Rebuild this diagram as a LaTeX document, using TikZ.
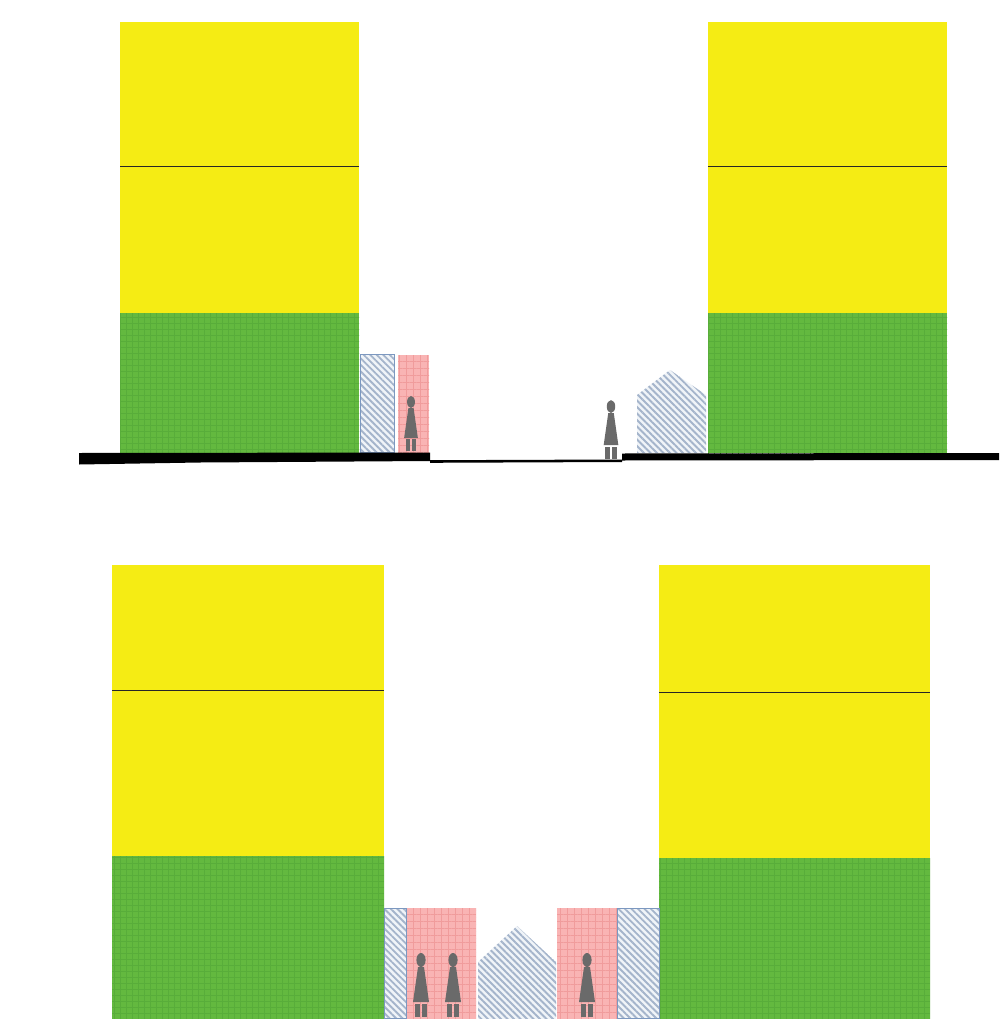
\documentclass[tikz,border=0pt]{standalone}
\usetikzlibrary{patterns.meta}
\definecolor{yel}{HTML}{F5EC14}
\definecolor{grn}{HTML}{63B93F}
\definecolor{grnd}{HTML}{58AD3A}
\definecolor{pnk}{HTML}{F9B4B4}
\definecolor{pnkd}{HTML}{F09C9C}
\definecolor{hat}{HTML}{A4B4CB}
\definecolor{hatbg}{HTML}{F0F4F8}
\definecolor{edgeb}{HTML}{7C98C0}
\definecolor{fig}{HTML}{6A6A6A}
\tikzset{
  x=1pt,y=-1pt,
  yellowblock/.style={fill=yel,draw=none},
  floorline/.style={draw=black!85,line width=0.9pt},
  greenblock/.style={pattern={Hatch[angle=0,distance=6pt,line width=0.8pt]},pattern color=grnd,preaction={fill=grn}},
  pinkblock/.style={pattern={Hatch[angle=0,distance=7pt,line width=0.8pt]},pattern color=pnkd,preaction={fill=pnk}},
  hatchblock/.style={pattern={Lines[angle=-45,distance=4.6pt,line width=1.9pt]},pattern color=hat,preaction={fill=hatbg}},
  hatchedge/.style={draw=edgeb,line width=0.9pt},
  figure/.style={fill=fig,draw=none},
  pics/person/.style={code={
    \fill[figure] (0,-57) ellipse (4.6 and 7);
    \fill[figure] (-3,-50) -- (3,-50) -- (8,-15) -- (-8,-15) -- cycle;
    \fill[figure] (-6,-13.5) rectangle (-1,0);
    \fill[figure] (1,-13.5) rectangle (6,0);
  }}
}
\begin{document}
\begin{tikzpicture}
\useasboundingbox (0,0) rectangle (999,1019);
\fill[white] (0,0) rectangle (999,1019);
% top section, left tower
\fill[yellowblock] (120,22) rectangle (359,313);
\draw[floorline] (120,166.5) -- (359,166.5);
\path[greenblock] (120,313) rectangle (359,453);
% top section, right tower
\fill[yellowblock] (708,22) rectangle (947,313);
\draw[floorline] (708,166.5) -- (947,166.5);
\path[greenblock] (708,313) rectangle (947,453);
% top section, infill
\path[hatchblock,hatchedge] (360,354) rectangle (394,452);
\path[pinkblock] (398,355) rectangle (429,452);
\pic[scale=0.86] at (411,451) {person};
\path[hatchblock] (637,453) -- (637,395) -- (670,370) -- (706,395) -- (706,453) -- cycle;
\pic[scale=0.92] at (611,459) {person};
% ground
\fill[black] (79,453) -- (430,452.5) -- (430,461) -- (200,462.5) -- (79,464.5) -- cycle;
\fill[black] (430,460.2) -- (622,459.5) -- (622,462) -- (430,462.8) -- cycle;
\fill[black] (622,453.5) -- (999,453) -- (999,460) -- (622,460.5) -- cycle;
% bottom section, left tower
\fill[yellowblock] (112,565) rectangle (384,856);
\draw[floorline] (112,690) -- (384,690);
\path[greenblock] (112,856) rectangle (384,1019);
% bottom section, right tower
\fill[yellowblock] (659,565) rectangle (930,858);
\draw[floorline] (659,692) -- (930,692);
\path[greenblock] (659,858) rectangle (930,1019);
% bottom section, infill
\path[hatchblock,hatchedge] (384.5,908.5) rectangle (406,1018.5);
\path[pinkblock] (407,908) rectangle (476,1019);
\path[hatchblock] (478,1019) -- (478,962) -- (517,926) -- (556,962) -- (556,1019) -- cycle;
\path[pinkblock] (557,908) rectangle (617,1019);
\path[hatchblock,hatchedge] (617.5,908.5) rectangle (659,1018.5);
\pic at (421,1017) {person};
\pic at (453,1017) {person};
\pic at (587,1017) {person};
\end{tikzpicture}
\end{document}
